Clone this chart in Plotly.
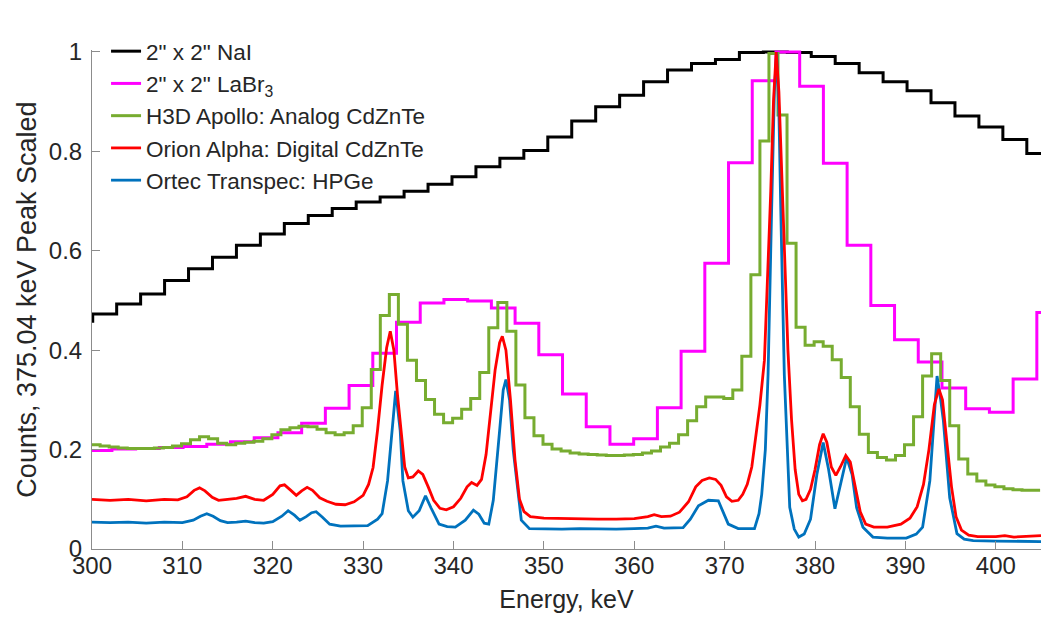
import plotly.graph_objects as go

# ---------------- data ----------------
# 2" x 2" NaI : step histogram, bin start / width in keV
nai_start = 297.43
nai_width = 2.65
nai_values = [0.458, 0.473, 0.493, 0.513, 0.540, 0.564, 0.587, 0.611, 0.634, 0.655,
              0.671, 0.685, 0.698, 0.708, 0.720, 0.734, 0.749, 0.769, 0.786, 0.802,
              0.829, 0.861, 0.890, 0.913, 0.940, 0.964, 0.977, 0.985, 0.999, 1.000,
              0.999, 0.991, 0.977, 0.958, 0.940, 0.922, 0.898, 0.871, 0.849, 0.824,
              0.796]

# 2" x 2" LaBr3 : step histogram
labr_start = 299.58
labr_width = 2.624
labr_values = [0.198, 0.201, 0.202, 0.204, 0.206, 0.211, 0.216, 0.224, 0.234, 0.253,
               0.283, 0.329, 0.394, 0.456, 0.495, 0.502, 0.499, 0.485, 0.454, 0.391,
               0.312, 0.246, 0.211, 0.222, 0.284, 0.398, 0.575, 0.777, 0.942, 1.000,
               0.931, 0.776, 0.611, 0.490, 0.421, 0.376, 0.324, 0.282, 0.275, 0.342,
               0.476]

# H3D Apollo (analog CdZnTe): 1 keV step histogram
apollo_start = 299.9
apollo_width = 1.0
apollo_values = [0.210, 0.207, 0.205, 0.203, 0.202, 0.202, 0.202, 0.203, 0.204, 0.207,
                 0.212, 0.220, 0.226, 0.222, 0.213, 0.210, 0.213, 0.215, 0.217, 0.222,
                 0.230, 0.240, 0.244, 0.247, 0.246, 0.241, 0.234, 0.230, 0.234, 0.248,
                 0.284, 0.361, 0.470, 0.512, 0.452, 0.380, 0.339, 0.301, 0.271, 0.254,
                 0.263, 0.281, 0.303, 0.355, 0.445, 0.496, 0.438, 0.330, 0.264, 0.228,
                 0.211, 0.201, 0.197, 0.193, 0.191, 0.190, 0.189, 0.188, 0.188, 0.189,
                 0.190, 0.193, 0.197, 0.205, 0.213, 0.230, 0.258, 0.286, 0.306, 0.306,
                 0.303, 0.320, 0.388, 0.552, 0.821, 0.997, 0.873, 0.615, 0.446, 0.410,
                 0.417, 0.408, 0.381, 0.345, 0.286, 0.231, 0.194, 0.184, 0.179, 0.188,
                 0.210, 0.266, 0.348, 0.393, 0.339, 0.248, 0.181, 0.151, 0.137, 0.129,
                 0.125, 0.121, 0.119, 0.118, 0.118]

# Orion Alpha (digital CdZnTe)
orion_energy = [300, 302, 304, 306, 308, 309.5, 310.5, 311.3, 311.9, 312.5, 313.3, 314, 315,
                316, 317, 318, 319, 320, 320.8, 321.3, 322.0, 322.6, 323.2, 323.8, 324.4,
                325.2, 326, 327, 328, 329, 330, 330.6, 331.1, 331.6, 332.1, 332.6, 333.0,
                333.4, 333.8, 334.2, 334.6, 335.0, 335.5, 336.1, 336.6, 337.2, 337.8, 338.5,
                339.2, 340.0, 340.8, 341.5, 342.0, 342.6, 343.1, 343.6, 344.1, 344.6, 345.1,
                345.4, 345.8, 346.3, 346.8, 347.3, 347.8, 348.5, 350, 352, 354, 356, 358,
                360, 361.5, 362.2, 363, 364, 365, 366, 366.8, 367.5, 368.3, 369, 369.6,
                370.2, 370.8, 371.5, 372, 372.5, 373.0, 373.5, 373.9, 374.4, 374.8, 375.1,
                375.4, 375.7, 376.0, 376.3, 376.6, 377.0, 377.4, 377.8, 378.2, 378.6, 379.0,
                379.5, 380.0, 380.5, 380.9, 381.3, 381.8, 382.3, 382.8, 383.4, 383.9, 384.4,
                385, 385.6, 386.5, 388, 389.5, 390.5, 391.3, 392, 392.6, 393.2, 393.7,
                394.1, 394.6, 395.1, 395.6, 396.2, 397, 398, 400, 401, 402, 403.5, 405]
orion_counts = [0.100, 0.098, 0.100, 0.097, 0.100, 0.099, 0.105, 0.118, 0.123, 0.117, 0.104,
                0.098, 0.100, 0.102, 0.106, 0.100, 0.098, 0.110, 0.127, 0.129, 0.118, 0.108,
                0.117, 0.124, 0.118, 0.103, 0.096, 0.090, 0.089, 0.095, 0.108, 0.130, 0.164,
                0.240, 0.330, 0.405, 0.438, 0.400, 0.310, 0.230, 0.165, 0.143, 0.145, 0.157,
                0.150, 0.125, 0.098, 0.082, 0.079, 0.085, 0.102, 0.125, 0.134, 0.128, 0.140,
                0.190, 0.270, 0.360, 0.415, 0.428, 0.400, 0.300, 0.180, 0.100, 0.075, 0.065,
                0.062, 0.061, 0.060, 0.060, 0.060, 0.061, 0.065, 0.069, 0.065, 0.066, 0.074,
                0.095, 0.125, 0.138, 0.143, 0.140, 0.128, 0.105, 0.096, 0.098, 0.110, 0.130,
                0.165, 0.230, 0.290, 0.380, 0.560, 0.720, 0.900, 1.000, 0.920, 0.760, 0.600,
                0.400, 0.260, 0.160, 0.110, 0.097, 0.100, 0.120, 0.160, 0.210, 0.232, 0.215,
                0.165, 0.148, 0.165, 0.188, 0.175, 0.130, 0.075, 0.050, 0.044, 0.044, 0.050,
                0.062, 0.085, 0.130, 0.200, 0.290, 0.322, 0.300, 0.215, 0.125, 0.065, 0.038,
                0.028, 0.025, 0.025, 0.027, 0.024, 0.025, 0.027]

# Ortec Transpec (HPGe)
ortec_energy = [300, 302, 304, 306, 308, 310, 311.2, 312, 312.7, 313.4, 314.2, 315, 316, 317,
                318, 319, 320, 321, 321.7, 322.4, 323, 323.7, 324.3, 324.8, 325.5, 326.3,
                327.5, 329, 330.5, 331.6, 332.1, 332.7, 333.2, 333.6, 334.1, 334.4, 335.0,
                335.5, 336.2, 336.9, 337.5, 338.4, 339.3, 340.2, 341.3, 342.2, 342.8, 343.4,
                343.9, 344.4, 345.1, 345.5, 345.8, 346.2, 346.6, 346.9, 347.5, 348.4, 350,
                352, 354, 356, 358, 360, 361.5, 362.4, 363.3, 365.4, 366.2, 367.1, 368.2,
                369.3, 370.4, 371.5, 373.3, 373.8, 374.1, 374.5, 374.8, 375.2, 375.5, 375.75,
                376.0, 376.2, 376.6, 377.2, 377.7, 378.2, 378.8, 379.5, 380.2, 380.9, 381.5,
                382.2, 382.9, 383.5, 384.1, 384.6, 385.3, 386.4, 388, 390.1, 391.2, 391.9,
                392.7, 393.1, 393.5, 393.9, 394.2, 394.9, 395.7, 396.5, 397.5, 400, 402.5, 405]
ortec_counts = [0.054, 0.053, 0.054, 0.052, 0.054, 0.053, 0.058, 0.066, 0.071, 0.066, 0.057,
                0.053, 0.054, 0.056, 0.053, 0.052, 0.055, 0.066, 0.077, 0.068, 0.058, 0.065,
                0.073, 0.075, 0.064, 0.050, 0.046, 0.047, 0.047, 0.060, 0.071, 0.137, 0.238,
                0.318, 0.238, 0.137, 0.077, 0.064, 0.077, 0.107, 0.083, 0.050, 0.045, 0.044,
                0.058, 0.078, 0.070, 0.052, 0.050, 0.098, 0.238, 0.320, 0.341, 0.300, 0.200,
                0.151, 0.058, 0.041, 0.040, 0.040, 0.041, 0.040, 0.040, 0.041, 0.042, 0.046,
                0.042, 0.043, 0.060, 0.087, 0.098, 0.097, 0.050, 0.041, 0.041, 0.071, 0.110,
                0.200, 0.350, 0.686, 0.920, 1.000, 0.880, 0.690, 0.350, 0.084, 0.040, 0.024,
                0.030, 0.060, 0.150, 0.214, 0.160, 0.081, 0.140, 0.184, 0.150, 0.083, 0.044,
                0.024, 0.022, 0.022, 0.030, 0.044, 0.137, 0.250, 0.348, 0.300, 0.258, 0.103,
                0.031, 0.020, 0.017, 0.016, 0.015, 0.015]

series_names = ['2" x 2" NaI', '2" x 2" LaBr<sub>3</sub>', 'H3D Apollo: Analog CdZnTe',
                'Orion Alpha: Digital CdZnTe', 'Ortec Transpec: HPGe']
x_ticks = [300, 310, 320, 330, 340, 350, 360, 370, 380, 390, 400]
y_ticks = [0, 0.2, 0.4, 0.6, 0.8, 1]
y_tick_labels = ['0', '0.2', '0.4', '0.6', '0.8', '1']
x_title = 'Energy, keV'
y_title = 'Counts, 375.04 keV Peak Scaled'


def step_xy(start, width, values):
    xs = [start + width * i for i in range(len(values))]
    ys = list(values)
    xs.append(start + width * len(values))
    ys.append(values[-1])
    return xs, ys


FONT = 'Liberation Sans, Arial, Helvetica, sans-serif'
TXT = '#262626'
AXC = '#8c8c8c'

fig = go.Figure()
nx, ny = step_xy(nai_start, nai_width, nai_values)
fig.add_trace(go.Scatter(x=nx, y=ny, mode='lines', line=dict(color='#000000', width=3, shape='hv'),
                         name=series_names[0], legendrank=1))
lx, ly = step_xy(labr_start, labr_width, labr_values)
fig.add_trace(go.Scatter(x=lx, y=ly, mode='lines', line=dict(color='#FF00FF', width=3, shape='hv'),
                         name=series_names[1], legendrank=2))
ax_, ay_ = step_xy(apollo_start, apollo_width, apollo_values)
fig.add_trace(go.Scatter(x=ax_, y=ay_, mode='lines', line=dict(color='#77AC30', width=3, shape='hv'),
                         name=series_names[2], legendrank=3))
fig.add_trace(go.Scatter(x=ortec_energy, y=ortec_counts, mode='lines',
                         line=dict(color='#0072BD', width=2.8), name=series_names[4], legendrank=5))
fig.add_trace(go.Scatter(x=orion_energy, y=orion_counts, mode='lines',
                         line=dict(color='#FF0000', width=2.8), name=series_names[3], legendrank=4))

# the page body keeps its default 8 px margin, so the figure is 16 px smaller than the window
fig.update_layout(
    width=1036, height=605,
    margin=dict(l=84, r=3, t=42, b=64, autoexpand=False),
    paper_bgcolor='white', plot_bgcolor='white',
    font=dict(family=FONT, size=22, color=TXT),
    showlegend=True,
    legend=dict(x=0.0148, y=1.040, xanchor='left', yanchor='top', traceorder='normal',
                bgcolor='rgba(0,0,0,0)', borderwidth=0,
                font=dict(family=FONT, size=22.5, color=TXT),
                itemwidth=30, tracegroupgap=0),
    xaxis=dict(range=[300, 405], tickvals=x_ticks, ticks='inside', ticklen=8, tickcolor=AXC,
               showline=True, linecolor=AXC, linewidth=1, showgrid=False, zeroline=False,
               automargin=False, ticklabelstandoff=-5,
               tickfont=dict(family=FONT, size=24, color=TXT),
               title=dict(text=x_title, font=dict(family=FONT, size=25, color=TXT), standoff=14)),
    yaxis=dict(range=[0, 1.004], tickvals=y_ticks, ticktext=y_tick_labels, ticks='inside', ticklen=8,
               tickcolor=AXC, showline=True, linecolor=AXC, linewidth=1, showgrid=False,
               zeroline=False, automargin=False, ticklabelstandoff=4,
               tickfont=dict(family=FONT, size=24, color=TXT),
               title=dict(text=y_title, font=dict(family=FONT, size=27, color=TXT), standoff=4)),
)

fig.write_html('out.html')
